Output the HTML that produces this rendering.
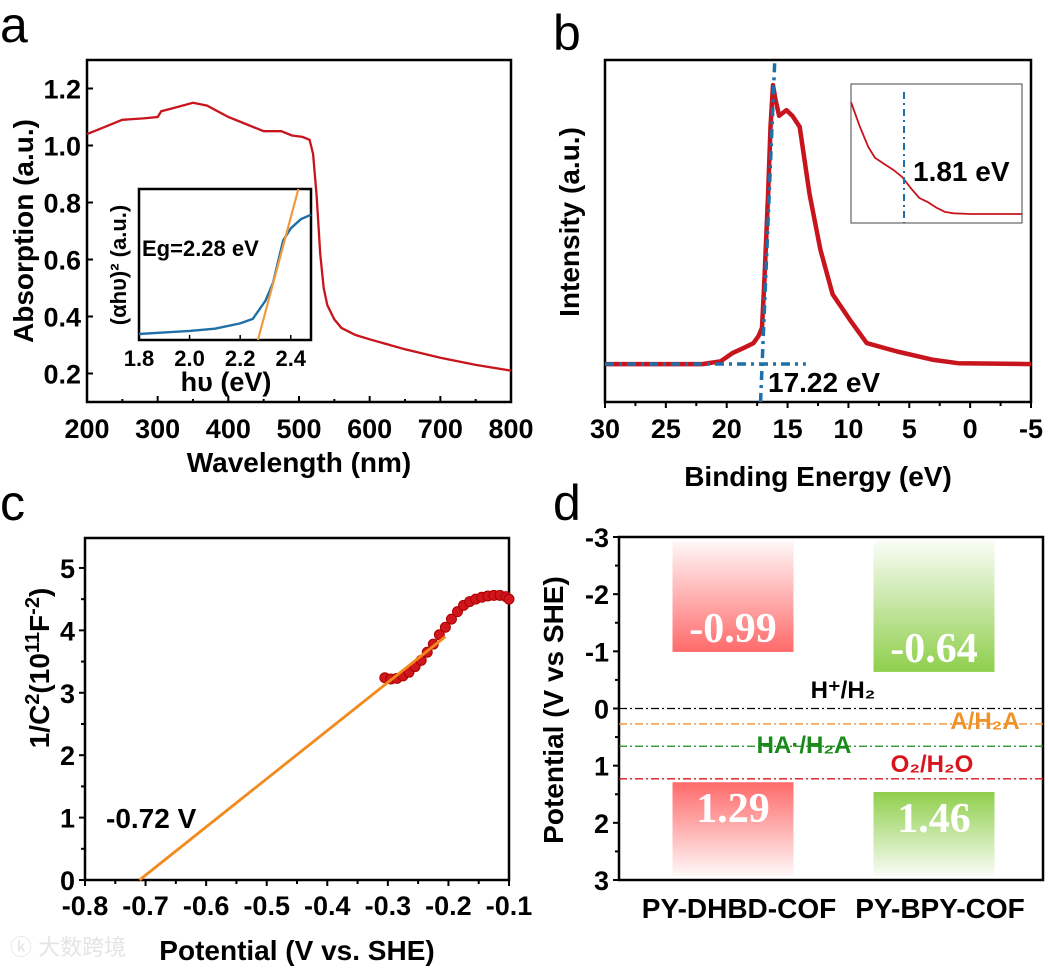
<!DOCTYPE html>
<html><head><meta charset="utf-8">
<style>
html,body{margin:0;padding:0;background:#fff;}
svg{display:block;font-family:"Liberation Sans","Noto Sans CJK SC",sans-serif;}
.tk{font-size:27px;font-weight:bold;fill:#000;}
.ttl{font-size:28px;font-weight:bold;fill:#000;}
.pl{font-size:50px;fill:#000;}
.bv{font-family:"Liberation Serif",serif;font-size:42px;font-weight:bold;fill:#fff;}
</style></head>
<body>
<svg id="fig" width="1048" height="970" viewBox="0 0 1048 970">
<defs>
<linearGradient id="gRedTop" x1="0" y1="0" x2="0" y2="1"><stop offset="0" stop-color="#ff6a6a" stop-opacity="0.05"/><stop offset="1" stop-color="#ff6a6a"/></linearGradient>
<linearGradient id="gRedBot" x1="0" y1="0" x2="0" y2="1"><stop offset="0" stop-color="#ff6a6a"/><stop offset="1" stop-color="#ff6a6a" stop-opacity="0.05"/></linearGradient>
<linearGradient id="gGrnTop" x1="0" y1="0" x2="0" y2="1"><stop offset="0" stop-color="#8fcf4c" stop-opacity="0.05"/><stop offset="1" stop-color="#8fcf4c"/></linearGradient>
<linearGradient id="gGrnBot" x1="0" y1="0" x2="0" y2="1"><stop offset="0" stop-color="#8fcf4c"/><stop offset="1" stop-color="#8fcf4c" stop-opacity="0.05"/></linearGradient>
</defs>
<text class="pl" x="0" y="42">a</text>
<text class="pl" x="553" y="50">b</text>
<text class="pl" x="0" y="520">c</text>
<text class="pl" x="553" y="520">d</text>
<text x="10" y="955" font-size="22" fill="#e4e4e4">ⓚ 大数跨境</text>
<g id="pa"></g><g id="pb"></g><g id="pc"></g><g id="pd"></g>
</svg>
<script>
// ---- Panel a data ----
const aWave = [200,220,250,280,300,305,320,350,370,400,430,450,475,490,505,515,520,525,530,535,540,550,560,580,600,650,700,750,800];
const aAbs  = [1.04,1.06,1.09,1.095,1.10,1.12,1.13,1.15,1.14,1.10,1.07,1.05,1.05,1.035,1.03,1.02,0.97,0.82,0.62,0.50,0.44,0.39,0.36,0.335,0.32,0.285,0.255,0.23,0.21];
const aXTicks = [200,300,400,500,600,700,800];
const aYTicks = [0.2,0.4,0.6,0.8,1.0,1.2];
const insHv = [1.8,1.9,2.0,2.1,2.2,2.25,2.3,2.33,2.35,2.37,2.4,2.44,2.48];
const insY  = [0.04,0.05,0.06,0.075,0.11,0.14,0.26,0.38,0.52,0.66,0.74,0.8,0.83];
const insFitX = [2.27,2.43];
const insFitY = [0,1];
const insXTicks = [1.8,2.0,2.2,2.4];
// ---- Panel b data ----
const bBE = [30,22,20.5,19.5,18.5,17.8,17.4,17.1,16.9,16.6,16.4,16.2,16.0,15.7,15.4,15.1,14.6,14.0,13.2,12.3,11.3,9.9,8.5,6,3,1,-5];
const bI  = [0,0,0.01,0.04,0.06,0.075,0.1,0.13,0.3,0.61,0.85,1.0,0.95,0.89,0.9,0.91,0.89,0.85,0.61,0.41,0.25,0.16,0.075,0.045,0.015,0.003,0];
const bXTicks = [30,25,20,15,10,5,0,-5];
const bOnset = 17.22;
const bInsX = [0,0.05,0.1,0.14,0.2,0.25,0.3,0.35,0.4,0.45,0.5,0.55,0.6,0.7,0.8,1.0];
const bInsY = [0.87,0.7,0.55,0.47,0.42,0.38,0.33,0.25,0.18,0.15,0.11,0.08,0.07,0.065,0.065,0.065];
const bInsMark = 0.31;
// ---- Panel c data ----
const cV = [-0.305,-0.295,-0.285,-0.275,-0.265,-0.255,-0.245,-0.235,-0.225,-0.215,-0.205,-0.195,-0.185,-0.175,-0.165,-0.155,-0.145,-0.135,-0.125,-0.115,-0.105,-0.1];
const cC = [3.24,3.22,3.23,3.27,3.33,3.42,3.52,3.65,3.78,3.93,4.05,4.18,4.3,4.4,4.46,4.5,4.53,4.55,4.56,4.56,4.54,4.5];
const cFitX = [-0.71,-0.205];
const cFitY = [0,3.9];
const cXTicks = [-0.8,-0.7,-0.6,-0.5,-0.4,-0.3,-0.2,-0.1];
const cYTicks = [0,1,2,3,4,5];
// ---- Panel d data ----
const dCats = ["PY-DHBD-COF","PY-BPY-COF"];
const dCB = [-0.99,-0.64];
const dVB = [1.29,1.46];
const dRefVals = [0,0.27,0.66,1.23];
const dRefLabels = ["H⁺/H₂","A/H₂A","HA·/H₂A","O₂/H₂O"];
const dYTicks = [-3,-2,-1,0,1,2,3];

const NS="http://www.w3.org/2000/svg";
function mk(parent,tag,attrs,txt){const e=document.createElementNS(NS,tag);for(const k in attrs)e.setAttribute(k,attrs[k]);if(txt!==undefined)e.textContent=txt;parent.appendChild(e);return e;}
function lin(d0,d1,r0,r1){return v=>r0+(v-d0)*(r1-r0)/(d1-d0);}
function pathOf(xs,ys,sx,sy){return xs.map((x,i)=>(i?'L':'M')+sx(x).toFixed(1)+' '+sy(ys[i]).toFixed(1)).join(' ');}
function frame(g,x0,y0,x1,y1,name){const r=mk(g,'rect',{x:x0,y:y0,width:x1-x0,height:y1-y0,fill:'none',stroke:'#000','stroke-width':2.5});}

// ===== Panel a =====
(function(){
const g=document.getElementById('pa');
const X0=87,X1=511,Y0=60,Y1=402;
const sx=lin(200,800,X0,X1), sy=lin(0.1,1.3,Y1,Y0);
frame(g,X0,Y0,X1,Y1,'plot-frame-a');
aXTicks.forEach(t=>{mk(g,'line',{x1:sx(t),x2:sx(t),y1:Y1,y2:Y1-6,stroke:'#000','stroke-width':2});
 const tx=mk(g,'text',{x:sx(t),y:Y1+36,'text-anchor':'middle',class:'tk'},t);});
for(let t=250;t<800;t+=100){mk(g,'line',{x1:sx(t),x2:sx(t),y1:Y1,y2:Y1-3,stroke:'#000','stroke-width':2});}
aYTicks.forEach(t=>{mk(g,'line',{x1:X0,x2:X0+6,y1:sy(t),y2:sy(t),stroke:'#000','stroke-width':2});
 const tx=mk(g,'text',{x:X0-6,y:sy(t)+10,'text-anchor':'end',class:'tk'},t.toFixed(1));});
const p=mk(g,'path',{d:pathOf(aWave,aAbs,sx,sy),fill:'none',stroke:'#c8141c','stroke-width':2.3});

let t=mk(g,'text',{x:(X0+X1)/2,y:472,'text-anchor':'middle',class:'ttl'},'Wavelength (nm)');
t=mk(g,'text',{x:0,y:0,'text-anchor':'middle',class:'ttl',transform:'translate(33,231) rotate(-90)'},'Absorption (a.u.)');
// inset
const I0=139,I1=311,J0=189,J1=340;
const ix=lin(1.8,2.48,I0,I1), iy=lin(0,1,J1,J0);
frame(g,I0,J0,I1,J1,'inset-frame-a');
insXTicks.forEach(v=>{mk(g,'line',{x1:ix(v),x2:ix(v),y1:J1,y2:J1-5,stroke:'#000','stroke-width':1.5});
 const tx=mk(g,'text',{x:ix(v),y:J1+26,'text-anchor':'middle',class:'tk',style:'font-size:22px'},v.toFixed(1));});
const ip=mk(g,'path',{d:pathOf(insHv,insY,ix,iy),fill:'none',stroke:'#1f6fa8','stroke-width':2.4});

const fl=mk(g,'path',{d:pathOf(insFitX,insFitY,ix,iy),fill:'none',stroke:'#ee9a40','stroke-width':2.2});

t=mk(g,'text',{x:142,y:256,class:'tk',style:'font-size:22px'},'Eg=2.28 eV');
t=mk(g,'text',{x:226,y:391,'text-anchor':'middle',class:'ttl',style:'font-size:27px'},'hυ (eV)');
t=mk(g,'text',{x:0,y:0,'text-anchor':'middle',class:'ttl',style:'font-size:22px',transform:'translate(126,265) rotate(-90)'},'(αhυ)² (a.u.)');
})();

// ===== Panel b =====
(function(){
const g=document.getElementById('pb');
const X0=605,X1=1031,Y0=60,Y1=402;
const sx=lin(30,-5,X0,X1), sy=lin(-0.136,1.09,Y1,Y0);
frame(g,X0,Y0,X1,Y1,'plot-frame-b');
bXTicks.forEach(v=>{mk(g,'line',{x1:sx(v),x2:sx(v),y1:Y1,y2:Y1+6,stroke:'#000','stroke-width':2});
 const tx=mk(g,'text',{x:sx(v),y:Y1+36,'text-anchor':'middle',class:'tk'},v);});
for(let v=27.5;v>-5;v-=5){mk(g,'line',{x1:sx(v),x2:sx(v),y1:Y1,y2:Y1+4,stroke:'#000','stroke-width':2});}
const p=mk(g,'path',{d:pathOf(bBE,bI,sx,sy),fill:'none',stroke:'#c8141c','stroke-width':4.5,'stroke-linejoin':'round'});

const dash='9 5 3 5';
let l=mk(g,'line',{x1:sx(bOnset),y1:Y1,x2:sx(16.05),y2:Y0,stroke:'#1f6fa8','stroke-width':3.5,'stroke-dasharray':dash});

l=mk(g,'line',{x1:X0,y1:sy(0),x2:sx(13.5),y2:sy(0),stroke:'#1f6fa8','stroke-width':3.5,'stroke-dasharray':dash});

let t=mk(g,'text',{x:768,y:392,class:'tk',style:'font-size:28px'},'17.22 eV');
t=mk(g,'text',{x:(X0+X1)/2,y:486,'text-anchor':'middle',class:'ttl'},'Binding Energy (eV)');
t=mk(g,'text',{x:0,y:0,'text-anchor':'middle',class:'ttl',transform:'translate(579,222) rotate(-90)'},'Intensity (a.u.)');
// inset
const I0=851,I1=1022,J0=84,J1=223;
const ix=lin(0,1,I0,I1), iy=lin(0,1,J1,J0);
const r=mk(g,'rect',{x:I0,y:J0,width:I1-I0,height:J1-J0,fill:'#fff',stroke:'#444','stroke-width':1});

const ip=mk(g,'path',{d:pathOf(bInsX,bInsY,ix,iy),fill:'none',stroke:'#c8141c','stroke-width':1.8});

l=mk(g,'line',{x1:ix(bInsMark),x2:ix(bInsMark),y1:J0+8,y2:J1,stroke:'#1f6fa8','stroke-width':2,'stroke-dasharray':'7 4 2 4'});

t=mk(g,'text',{x:913,y:181,class:'tk',style:'font-size:28px'},'1.81 eV');
})();

// ===== Panel c =====
(function(){
const g=document.getElementById('pc');
const X0=85,X1=509,Y0=538,Y1=880;
const sx=lin(-0.8,-0.1,X0,X1), sy=lin(0,5.48,Y1,Y0);
frame(g,X0,Y0,X1,Y1,'plot-frame-c');
cXTicks.forEach(v=>{mk(g,'line',{x1:sx(v),x2:sx(v),y1:Y1,y2:Y1+6,stroke:'#000','stroke-width':2});
 const tx=mk(g,'text',{x:sx(v),y:Y1+35,'text-anchor':'middle',class:'tk'},v.toFixed(1));});
for(let v=-0.75;v<-0.1;v+=0.1){mk(g,'line',{x1:sx(v),x2:sx(v),y1:Y1,y2:Y1+4,stroke:'#000','stroke-width':2});}
cYTicks.forEach(v=>{mk(g,'line',{x1:X0,x2:X0-6,y1:sy(v),y2:sy(v),stroke:'#000','stroke-width':2});
 const tx=mk(g,'text',{x:X0-10,y:sy(v)+10,'text-anchor':'end',class:'tk'},v);});
for(let v=0.5;v<5.5;v+=1){mk(g,'line',{x1:X0,x2:X0-4,y1:sy(v),y2:sy(v),stroke:'#000','stroke-width':2});}
cV.forEach((v,i)=>{const c=mk(g,'circle',{cx:sx(v),cy:sy(cC[i]),r:5,fill:'#d0161c',stroke:'#a00','stroke-width':1});
 });
const fl=mk(g,'path',{d:pathOf(cFitX,cFitY,sx,sy),fill:'none',stroke:'#f28a1e','stroke-width':2.8});

let t=mk(g,'text',{x:106,y:828,class:'tk',style:'font-size:28px'},'-0.72 V');
t=mk(g,'text',{x:297,y:960,'text-anchor':'middle',class:'ttl'},'Potential (V vs. SHE)');
t=mk(g,'text',{x:0,y:0,'text-anchor':'middle',class:'ttl',transform:'translate(49,668) rotate(-90)'});
t.innerHTML='1/C<tspan dy="-10" font-size="20">2</tspan><tspan dy="10">(10</tspan><tspan dy="-10" font-size="20">11</tspan><tspan dy="10">F</tspan><tspan dy="-10" font-size="20">-2</tspan><tspan dy="10">)</tspan>';

})();

// ===== Panel d =====
(function(){
const g=document.getElementById('pd');
const X0=619,X1=1043,Y0=537,Y1=880;
const sy=lin(-3,3,Y0,Y1);
const cx=[733,934], bw=121;
frame(g,X0,Y0,X1,Y1,'plot-frame-d');
dYTicks.forEach(v=>{mk(g,'line',{x1:X0,x2:X0-6,y1:sy(v),y2:sy(v),stroke:'#000','stroke-width':2});
 const tx=mk(g,'text',{x:X0-10,y:sy(v)+10,'text-anchor':'end',class:'tk'},v);});
for(let v=-2.5;v<3;v+=1){mk(g,'line',{x1:X0,x2:X0-4,y1:sy(v),y2:sy(v),stroke:'#000','stroke-width':2});}
const fills=[['gRedTop','gRedBot'],['gGrnTop','gGrnBot']];
dCats.forEach((c,i)=>{
 let r=mk(g,'rect',{x:cx[i]-bw/2,y:sy(-2.93),width:bw,height:sy(dCB[i])-sy(-2.93),fill:'url(#'+fills[i][0]+')'});
 
 let t=mk(g,'text',{x:cx[i],y:sy(dCB[i])-10,'text-anchor':'middle',class:'bv'},dCB[i].toFixed(2));
 r=mk(g,'rect',{x:cx[i]-bw/2,y:sy(dVB[i]),width:bw,height:sy(2.93)-sy(dVB[i]),fill:'url(#'+fills[i][1]+')'});
 
 t=mk(g,'text',{x:cx[i],y:sy(dVB[i])+40,'text-anchor':'middle',class:'bv'},dVB[i].toFixed(2));
 t=mk(g,'text',{x:cx[i]+6,y:918,'text-anchor':'middle',class:'ttl'},c);
});
const cols=['#000','#f0922a','#1a8a1a','#d8141c'];
const lpos=[[843,698],[985,729],[804,753],[932,772]];
dRefVals.forEach((v,i)=>{
 const l=mk(g,'line',{x1:X0,x2:X1,y1:sy(v),y2:sy(v),stroke:cols[i],'stroke-width':1.3,'stroke-dasharray':'8 3 2 3'});
 
 const t=mk(g,'text',{x:lpos[i][0],y:lpos[i][1],'text-anchor':'middle',class:'tk',style:'font-size:24px;fill:'+cols[i]},dRefLabels[i]);
 
});
const t=mk(g,'text',{x:0,y:0,'text-anchor':'middle',class:'ttl',transform:'translate(563,710) rotate(-90)'},'Potential (V vs SHE)');

})();
</script>
</body></html>
